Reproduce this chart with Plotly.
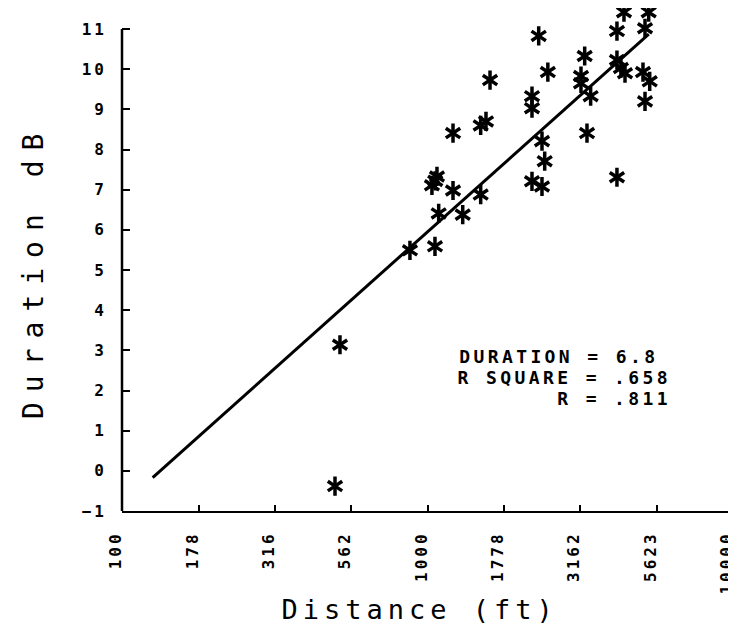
import math
import plotly.graph_objects as go

# ---- data ----
distance_ft = [4397, 5297, 5152, 4170, 2312, 3270, 4170, 4296, 4431, 2477,
               5074, 5338, 1602, 3180, 3180, 2198, 3420, 5152, 2198, 1554,
               1493, 1212, 3327, 2370, 2419, 1074, 1034, 1060, 1212, 2198,
               2370, 4170, 1493, 1088, 1304, 876, 1058, 517, 498]
duration_db = [11.42, 11.42, 11.02, 10.95, 10.83, 10.33, 10.23, 10.03, 9.90, 9.93,
               9.93, 9.70, 9.73, 9.83, 9.65, 9.33, 9.33, 9.20, 9.03, 8.70,
               8.60, 8.41, 8.41, 8.21, 7.71, 7.33, 7.11, 7.22, 6.98, 7.21,
               7.08, 7.31, 6.88, 6.41, 6.38, 5.49, 5.59, 3.14, -0.38]

tick_vals = [100, 178, 316, 562, 1000, 1778, 3162, 5623, 10000]
tick_text = ["100", "178", "316", "562", "1000", "1778", "3162", "5623", "10000"]
y_ticks = list(range(-1, 12))
y_axis_top = 11

fit_slope = 6.8
fit_intercept = -14.45
fit_x_range = [126, 5300]

stats_lines = ["DURATION = 6.8", "R SQUARE = .658",
               "\u00a0\u00a0\u00a0\u00a0\u00a0\u00a0\u00a0R = .811"]

fit_y = [fit_intercept + fit_slope * math.log10(v) for v in fit_x_range]

fig = go.Figure()
fig.add_trace(go.Scatter(x=fit_x_range, y=fit_y, mode="lines",
                         line=dict(color="black", width=3), showlegend=False,
                         hoverinfo="skip"))
for sym in ["y-up-open", "y-down-open"]:
    fig.add_trace(go.Scatter(
        x=distance_ft, y=duration_db, mode="markers", cliponaxis=False,
        marker=dict(symbol=sym, size=12, color="black",
                    line=dict(color="black", width=3.5)),
        showlegend=False))

tick_font = dict(family="DejaVu Sans Mono", size=16, color="black", weight="bold")

fig.update_xaxes(type="log", range=[2, 4], tickvals=tick_vals, ticktext=tick_text,
                 tickangle=-90, ticks="inside", ticklen=6, tickwidth=2, tickcolor="black",
                 showline=True, linecolor="black", linewidth=2, showgrid=False,
                 zeroline=False, tickfont=tick_font, ticklabelstandoff=12,
                 ticklabelshift=-6, ticklabeloverflow="allow")
fig.update_yaxes(range=[-1, 11.5], tickvals=y_ticks, ticks="inside", ticklen=8,
                 tickwidth=2, tickcolor="black", showline=False, showgrid=False,
                 zeroline=False, tickfont=tick_font, ticklabelstandoff=14)

# y-axis line drawn only up to the top tick (points above it stay visible)
fig.add_shape(type="line", xref="paper", yref="y", x0=0, x1=0,
              y0=y_ticks[0], y1=y_axis_top, line=dict(color="black", width=2.5))

annotations = []
for i, line in enumerate(stats_lines):
    annotations.append(dict(text=line, xref="paper", yref="paper",
                            x=0.5876, y=0.307 - i * 0.0415,
                            xanchor="left", yanchor="middle", showarrow=False,
                            font=dict(family="DejaVu Sans Mono", size=18,
                                      color="black", weight="bold")))
annotations.append(dict(text="Distance (ft)", xref="paper", yref="paper",
                        x=0.4877, y=-0.196, xanchor="center", yanchor="middle",
                        showarrow=False,
                        font=dict(family="DejaVu Sans Mono", size=27, color="black")))
annotations.append(dict(text="Duration dB", xref="paper", yref="paper",
                        x=-0.1457, y=0.478, xanchor="center", yanchor="middle",
                        textangle=-90, showarrow=False,
                        font=dict(family="DejaVu Sans Mono", size=28, color="black")))

fig.update_layout(width=736, height=624,
                  margin=dict(l=114, r=11, t=1, b=121),
                  plot_bgcolor="white", paper_bgcolor="white",
                  annotations=annotations)

post = """
function ls(){
  document.querySelectorAll('.xtick text, .ytick text').forEach(function(e){e.style.letterSpacing='3px';});
  document.querySelectorAll('.annotation-text').forEach(function(e){
    var t = e.textContent;
    if (t.indexOf('Distance')>=0) { e.style.letterSpacing='5px'; }
    else if (t.indexOf('Duration dB')>=0) { e.style.letterSpacing='10px'; }
    else { e.style.letterSpacing='3.4px'; }
  });
}
ls();
"""
fig.write_html("out.html", post_script=post)
